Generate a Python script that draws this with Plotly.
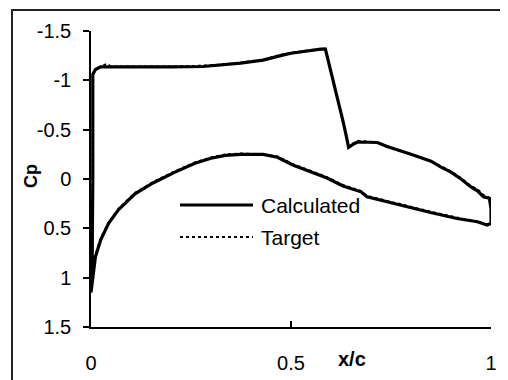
import plotly.graph_objects as go

# ---- data ----
# Calculated, upper surface, from trailing edge to leading edge
calc_upper_x = [1.0, 1.0, 0.996, 0.981, 0.966, 0.95, 0.925, 0.9, 0.875, 0.85, 0.8, 0.766,
                0.74, 0.716, 0.69, 0.666, 0.655, 0.644, 0.639, 0.631, 0.611, 0.586, 0.574,
                0.531, 0.5, 0.474, 0.45, 0.43, 0.374, 0.324, 0.28, 0.2, 0.1, 0.05, 0.024, 0.011,
                0.0045, 0.0045, 0.003, 0.0]
calc_upper_cp = [0.45, 0.30, 0.195, 0.18, 0.12, 0.08, 0.0, -0.07, -0.12, -0.18, -0.25, -0.295,
                 -0.33, -0.37, -0.37, -0.375, -0.35, -0.32, -0.42, -0.57, -0.90, -1.317, -1.317,
                 -1.29, -1.275, -1.25, -1.225, -1.205, -1.175, -1.157, -1.14, -1.137, -1.137, -1.137,
                 -1.137, -1.11, -1.06, 0.0, 0.8, 1.15]
# Calculated, lower surface, from leading edge to trailing edge
calc_lower_x = [0.0, 0.004, 0.011, 0.024, 0.044, 0.069, 0.11, 0.155, 0.21, 0.26, 0.30, 0.336,
                0.374, 0.43, 0.466, 0.506, 0.549, 0.59, 0.63, 0.66, 0.675, 0.69, 0.757, 0.78,
                0.849, 0.915, 0.966, 0.99, 1.0]
calc_lower_cp = [1.15, 1.03, 0.79, 0.62, 0.45, 0.31, 0.15, 0.04, -0.07, -0.16, -0.21, -0.24,
                 -0.25, -0.25, -0.22, -0.14, -0.07, -0.01, 0.07, 0.11, 0.13, 0.18, 0.25, 0.27,
                 0.34, 0.40, 0.433, 0.467, 0.45]

# Target, upper surface, from trailing edge to leading edge
targ_upper_x = [1.0, 1.0, 0.996, 0.981, 0.966, 0.95, 0.925, 0.9, 0.875, 0.85, 0.8, 0.766,
                0.74, 0.716, 0.69, 0.666, 0.655, 0.644, 0.639, 0.631, 0.611, 0.586, 0.574,
                0.531, 0.5, 0.474, 0.45, 0.43, 0.374, 0.324, 0.28, 0.2, 0.1, 0.05, 0.04, 0.024,
                0.011, 0.0045, 0.0045, 0.003, 0.0]
targ_upper_cp = [0.44, 0.28, 0.19, 0.16, 0.10, 0.07, -0.01, -0.08, -0.13, -0.18, -0.25, -0.30,
                 -0.33, -0.37, -0.38, -0.39, -0.36, -0.33, -0.42, -0.57, -0.90, -1.32, -1.32,
                 -1.30, -1.28, -1.26, -1.23, -1.21, -1.18, -1.16, -1.15, -1.14, -1.14, -1.14, -1.17,
                 -1.14, -1.11, -1.06, 0.0, 0.8, 1.12]
# Target, lower surface, from leading edge to trailing edge
targ_lower_x = [0.0, 0.004, 0.011, 0.024, 0.044, 0.069, 0.11, 0.155, 0.21, 0.26, 0.30, 0.336,
                0.374, 0.43, 0.466, 0.506, 0.549, 0.59, 0.63, 0.66, 0.675, 0.69, 0.757, 0.78,
                0.849, 0.915, 0.966, 0.99, 1.0]
targ_lower_cp = [1.12, 1.0, 0.77, 0.60, 0.44, 0.30, 0.14, 0.03, -0.08, -0.17, -0.22, -0.25,
                 -0.26, -0.25, -0.23, -0.15, -0.08, -0.02, 0.06, 0.10, 0.12, 0.17, 0.24, 0.26,
                 0.33, 0.39, 0.43, 0.46, 0.44]

y_tick_vals = [-1.5, -1.0, -0.5, 0.0, 0.5, 1.0, 1.5]
y_tick_text = ["-1.5", "-1", "-0.5", "0", "0.5", "1", "1.5"]
x_tick_vals = [0.0, 0.5, 1.0]
x_tick_text = ["0", "0.5", "1"]

series_names = ["Calculated", "Target"]

FONT = "Arial, Liberation Sans, sans-serif"

fig = go.Figure()
fig.add_trace(go.Scatter(x=calc_upper_x + calc_lower_x, y=calc_upper_cp + calc_lower_cp,
                         mode="lines", name=series_names[0],
                         line=dict(color="black", width=3.2), showlegend=False))
fig.add_trace(go.Scatter(x=targ_upper_x + targ_lower_x, y=targ_upper_cp + targ_lower_cp,
                         mode="lines", name=series_names[1],
                         line=dict(color="black", width=1.8, dash="dot"), showlegend=False))

# page body has an 8px margin: size the figure so it fits the 508x380 window
OFF = 8
W, H = 508 - OFF, 380 - OFF
L, R, T, B = 91 - OFF, 17, 31 - OFF, 53
pw, ph = W - L - R, H - T - B


def px(x):
    # x in window pixels -> paper coordinate
    return (x - OFF - L) / pw


def py(y):
    # y in window pixels -> paper coordinate
    return (H - B - (y - OFF)) / ph


shapes = [
    # outer frame
    dict(type="line", xref="paper", yref="paper", x0=px(12), x1=px(12), y0=py(9), y1=py(400),
         line=dict(color="#222", width=2)),
    dict(type="line", xref="paper", yref="paper", x0=px(11), x1=px(507), y0=py(10), y1=py(10),
         line=dict(color="#222", width=2)),
    dict(type="line", xref="paper", yref="paper", x0=px(506.5), x1=px(506.5), y0=py(9), y1=py(400),
         line=dict(color="#bbb", width=1.5)),
    # legend samples
    dict(type="line", xref="paper", yref="paper", x0=px(180), x1=px(253), y0=py(205), y1=py(205),
         line=dict(color="black", width=3.2)),
    dict(type="line", xref="paper", yref="paper", x0=px(180), x1=px(253), y0=py(237), y1=py(237),
         line=dict(color="black", width=1.8, dash="dot")),
]

annotations = [
    dict(text=series_names[0], xref="paper", yref="paper", x=px(259), y=py(205),
         xanchor="left", yanchor="middle", showarrow=False,
         font=dict(family=FONT, size=21, color="black")),
    dict(text=series_names[1], xref="paper", yref="paper", x=px(259), y=py(237),
         xanchor="left", yanchor="middle", showarrow=False,
         font=dict(family=FONT, size=21, color="black")),
    dict(text="<b>Cp</b>", xref="paper", yref="paper", x=px(31), y=py(176),
         xanchor="center", yanchor="middle", showarrow=False, textangle=-90,
         font=dict(family=FONT, size=18, color="black")),
    dict(text="<b>x/c</b>", xref="paper", yref="paper", x=px(352), y=py(359),
         xanchor="center", yanchor="middle", showarrow=False,
         font=dict(family=FONT, size=20, color="black")),
]

fig.update_layout(
    width=W, height=H,
    margin=dict(l=L, r=R, t=T, b=B, pad=0, autoexpand=False),
    paper_bgcolor="white", plot_bgcolor="white",
    showlegend=False,
    shapes=shapes, annotations=annotations,
    font=dict(family=FONT, size=20, color="black"),
)
fig.update_xaxes(range=[0, 1], showgrid=False, zeroline=False, showline=True,
                 linecolor="black", linewidth=1.5, ticks="inside", ticklen=6,
                 tickwidth=1.5, tickcolor="black", tickvals=x_tick_vals, ticktext=x_tick_text,
                 tickfont=dict(family=FONT, size=20, color="black"), ticklabelstandoff=17)
fig.update_yaxes(range=[1.5, -1.5], showgrid=False, zeroline=False, showline=True,
                 linecolor="black", linewidth=1.5, ticks="outside", ticklen=6,
                 tickwidth=1.5, tickcolor="black", tickvals=y_tick_vals, ticktext=y_tick_text,
                 tickfont=dict(family=FONT, size=20, color="black"), ticklabelstandoff=8)

fig.write_html("out.html")
